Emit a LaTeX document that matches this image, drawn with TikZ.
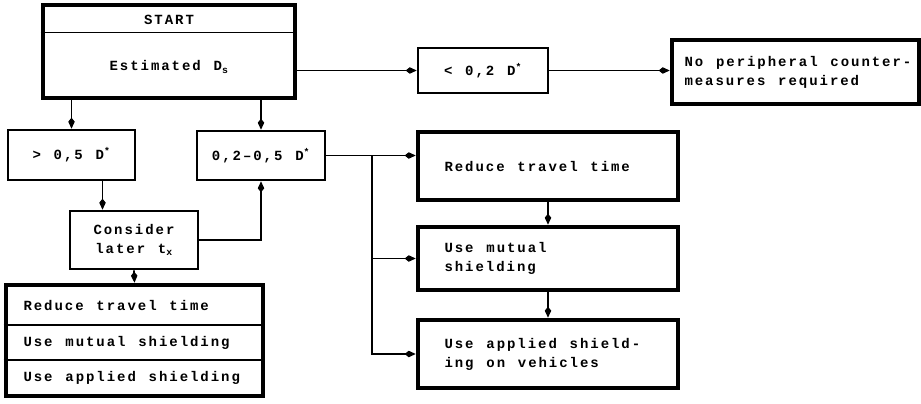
\documentclass[tikz,border=0pt]{standalone}
\usepackage{fontspec}
\newfontfamily\flowfont{Liberation Mono}[LetterSpace=14, WordSpace={1.23,0,0}]
\usetikzlibrary{arrows.meta}
\tikzset{
  thinbox/.style={draw, line width=2.6pt, inner sep=0pt, align=center},
  thickbox/.style={draw, line width=4.6pt, inner sep=0pt, align=center},
  boxtext/.style={anchor=west, align=left},
  conn/.style={line width=1.8pt, -{Kite[length=11pt,width=6.5pt,inset=4pt]}},
  rowline/.style={line width=1.4pt},
}
\begin{document}
\begin{tikzpicture}[x=1pt, y=-1pt, font=\flowfont\bfseries\fontsize{14}{19}\selectfont]
  \useasboundingbox (0,0) rectangle (921,404);
  % START box with the estimate below it
  \node[thickbox, minimum width=252pt, minimum height=93pt] (top) at (169,51.5) {};
  \draw[rowline] ([yshift=-30pt]top.north west) -- ([yshift=-30pt]top.north east);
  \node (startlbl) at (169,20) {START};
  \node (estlbl) at (169,67) {Estimated D\textsubscript{s}};

  % dose ranges
  \node[thinbox, minimum width=130pt, minimum height=45pt] (lt02) at (483,70.5) {< 0,2 D\textsuperscript{*}};
  \node[thinbox, minimum width=127pt, minimum height=50pt] (gt05) at (71.5,155) {> 0,5 D\textsuperscript{*}};
  \node[thinbox, minimum width=128pt, minimum height=49pt] (mid) at (261,155.5) {0,2–0,5 D\textsuperscript{*}};
  \node[thinbox, minimum width=128pt, minimum height=58pt] (cons) at (134,240) {Consider\\later t\textsubscript{x}};

  % countermeasures
  \node[thickbox, minimum width=247pt, minimum height=64pt] (nopc) at (795.5,72) {};
  \node[boxtext] (nopctxt) at (681,72) {No peripheral counter-\\measures required};
  \node[thickbox, minimum width=260pt, minimum height=68pt] (red) at (548,166) {};
  \node[boxtext] (redtxt) at (441,166) {Reduce travel time};
  \node[thickbox, minimum width=260pt, minimum height=63pt] (mut) at (548,258.5) {};
  \node[boxtext] (muttxt) at (441,258.5) {Use mutual\\shielding};
  \node[thickbox, minimum width=260pt, minimum height=68pt] (app) at (548,354) {};
  \node[boxtext] (apptxt) at (441,354) {Use applied shield-\\ing on vehicles};

  % list box at the bottom
  \node[thickbox, minimum width=257pt, minimum height=111pt] (opts) at (134.5,340.5) {};
  \draw[rowline] (opts.west |- 0,325) -- (opts.east |- 0,325);
  \draw[rowline] (opts.west |- 0,360) -- (opts.east |- 0,360);
  \node[boxtext] (opt1) at (20,305) {Reduce travel time};
  \node[boxtext] (opt2) at (20,343) {Use mutual shielding};
  \node[boxtext] (opt3) at (20,378) {Use applied shielding};

  % connectors
  \draw[conn] (gt05.north |- top.south) -- (gt05.north);
  \draw[conn] (mid.north |- top.south) -- (mid.north);
  \draw[conn] (top.east |- lt02.west) -- (lt02.west);
  \draw[conn] (lt02.east) -- (lt02.east -| nopc.west);
  \draw[conn] ([xshift=31pt]gt05.south) -- ([xshift=31pt]gt05.south |- cons.north);
  \draw[conn] (cons.east) -| (mid.south);
  \draw[conn] (cons.south) -- (opts.north);
  \draw[conn] (mid.east) -- (mid.east -| red.west);
  \coordinate (split) at (372,155.5);
  \draw[conn] (split) |- (mut.west);
  \draw[conn] (split) |- (app.west);
  \draw[conn] (red.south) -- (mut.north);
  \draw[conn] (mut.south) -- (app.north);
\end{tikzpicture}
\end{document}
